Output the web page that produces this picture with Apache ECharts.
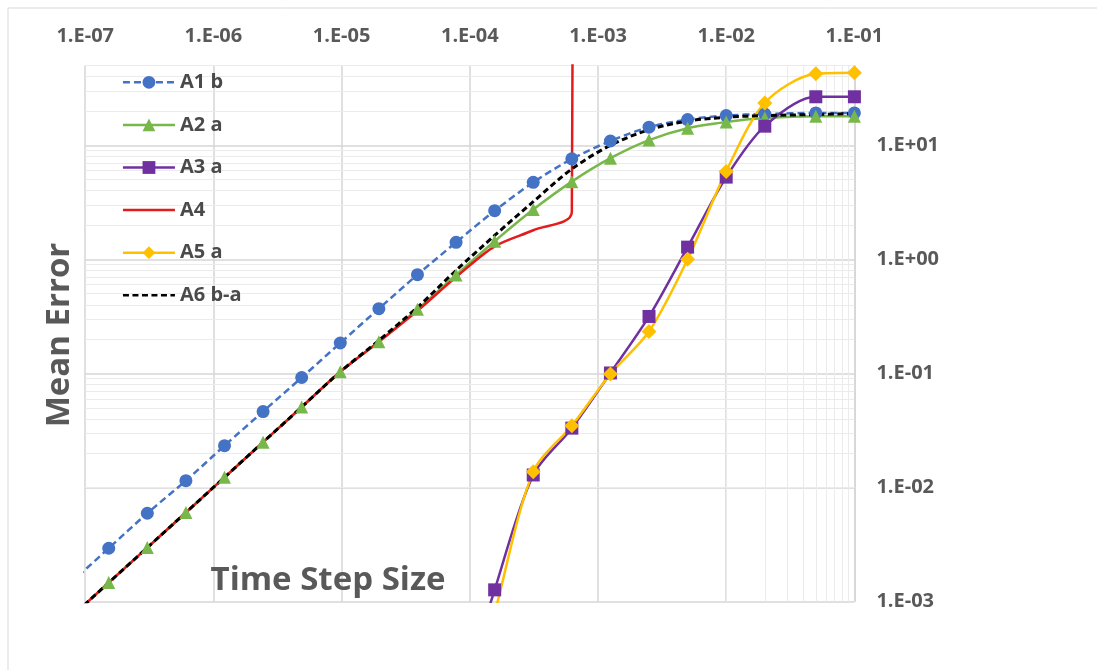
<!DOCTYPE html>
<html><head><meta charset="utf-8">
<script src="https://cdn.jsdelivr.net/npm/echarts@6/dist/echarts.min.js"></script>
<style>html,body{margin:0;padding:0;background:#fff}#c{width:1097px;height:670px}</style>
</head><body><div id="c"></div>
<script>
// time step sizes (x)
const stepSizes = [7.63e-8, 1.526e-7, 3.052e-7, 6.104e-7, 1.221e-6, 2.441e-6, 4.883e-6, 9.766e-6,
  1.953e-5, 3.906e-5, 7.813e-5, 1.563e-4, 3.125e-4, 6.25e-4, 1.25e-3, 2.5e-3, 5e-3, 1e-2, 2e-2, 5e-2, 1e-1];
const seriesNames = ['A1 b', 'A2 a', 'A3 a', 'A4', 'A5 a', 'A6 b-a'];
// mean error values
const a1b = [1.45e-3, 2.94e-3, 5.96e-3, 1.15e-2, 2.33e-2, 4.64e-2, 9.22e-2, 0.185, 0.37, 0.734,
  1.41, 2.67, 4.73, 7.6, 10.9, 14.4, 16.8, 18.2, 18.8, 19.2, 19.2];
const a2a = [7.2e-4, 1.47e-3, 2.98e-3, 6.05e-3, 1.23e-2, 2.5e-2, 5.08e-2, 0.1035, 0.19, 0.365,
  0.73, 1.44, 2.73, 4.8, 7.7, 11.1, 14.1, 16.0, 17.3, 18.0, 18.0];
const a3a = [1e-4, 1.27e-3, 1.29e-2, 3.32e-2, 0.101, 0.316, 1.28, 5.26, 14.7, 26.6, 26.6]; // from stepSizes[10]
const a4 = [7.2e-4, 1.47e-3, 2.98e-3, 6.05e-3, 1.23e-2, 2.5e-2, 5.08e-2, 0.1035, 0.19, 0.355,
  0.70, 1.30, 1.80, 2.6, 1e100]; // diverges at the last step
const a5a = [5e-5, 8e-4, 1.38e-2, 3.48e-2, 9.9e-2, 0.233, 1.0, 5.9, 23.5, 42.3, 43.2]; // from stepSizes[10]
const a6ba = [7.2e-4, 1.47e-3, 2.98e-3, 6.05e-3, 1.23e-2, 2.5e-2, 5.08e-2, 0.1035, 0.195, 0.38,
  0.80, 1.62, 3.2, 6.2, 10.0, 13.7, 16.3, 17.6, 18.2, 18.6, 19.0];
// tick labels
const xTickLabels = ['1.E-07', '1.E-06', '1.E-05', '1.E-04', '1.E-03', '1.E-02', '1.E-01'];
const yTickLabels = ['1.E-03', '1.E-02', '1.E-01', '1.E+00', '1.E+01'];
const xDecades = [-7, -6, -5, -4, -3, -2];
const yDecades = [-3, -2, -1, 0, 1];
const minorMult = [2, 3, 4, 5, 6, 7, 8, 9];
const yMax = 50;

const pairs = (xs, ys) => ys.map((y, i) => [xs[i], y]);
const xMinor = [];
xDecades.forEach(d => minorMult.forEach(m => xMinor.push({ xAxis: m * Math.pow(10, d) })));
const yMinor = [];
yDecades.forEach(d => minorMult.forEach(m => { const v = m * Math.pow(10, d); if (v <= yMax + 1e-9) yMinor.push({ yAxis: v }); }));

const FONT = "'Open Sans', sans-serif";
const TXT = '#595959';
const lbl = (arr, base) => v => {
  const e = Math.log10(v), r = Math.round(e);
  if (Math.abs(e - r) > 1e-6) return '';
  return arr[r - base] || '';
};
const noMarker = { color: 'rgba(0,0,0,0)', borderColor: 'rgba(0,0,0,0)', borderWidth: 0 };

const chart = echarts.init(document.getElementById('c'), null, { renderer: 'canvas' });
chart.setOption({
  animation: false,
  backgroundColor: '#fff',
  textStyle: { fontFamily: FONT },
  grid: { left: 85.2, right: 242.6, top: 65.5, bottom: 68.3, outerBoundsMode: 'none', containLabel: false },
  xAxis: {
    type: 'log', logBase: 10, min: 1e-7, max: 1e-1, position: 'top',
    axisLine: { show: false }, axisTick: { show: false },
    axisLabel: { formatter: lbl(xTickLabels, -7), color: TXT, fontFamily: FONT, fontWeight: 'bold', fontSize: 20, margin: 19 },
    splitLine: { show: true, lineStyle: { color: '#d6d6d6', width: 1.5 } }
  },
  yAxis: {
    type: 'log', logBase: 10, min: 1e-3, max: yMax, position: 'right',
    axisLine: { show: false }, axisTick: { show: false },
    axisLabel: { formatter: lbl(yTickLabels, -3), color: TXT, fontFamily: FONT, fontWeight: 'bold', fontSize: 20, margin: 22, showMaxLabel: false },
    splitLine: { show: true, showMaxLine: false, lineStyle: { color: '#d6d6d6', width: 1.5 } }
  },
  legend: {
    orient: 'vertical', left: 121.7, top: 72.3, padding: 0,
    itemWidth: 52, itemHeight: 16, itemGap: 22.6,
    lineStyle: { width: 2.5 },
    data: [
      { name: seriesNames[0] }, { name: seriesNames[1] }, { name: seriesNames[2] },
      { name: seriesNames[3], itemStyle: noMarker }, { name: seriesNames[4] }, { name: seriesNames[5], itemStyle: noMarker }
    ],
    textStyle: { color: '#4a4a4a', fontFamily: FONT, fontWeight: 'bold', fontSize: 20, lineHeight: 20 },
    backgroundColor: 'rgba(255,255,255,0)'
  },
  graphic: [
    { type: 'rect', shape: { x: 8, y: 8, width: 1200, height: 800 }, style: { fill: 'none', stroke: '#d9d9d9', lineWidth: 1 }, silent: true, z: -10 },
    { type: 'text', x: 60, y: 335, rotation: Math.PI / 2, style: { text: 'Mean Error', fill: TXT, font: "bold 33px 'Open Sans', sans-serif", textAlign: 'center', textVerticalAlign: 'middle' }, z: 10 },
    { type: 'text', x: 328, y: 581, style: { text: 'Time Step Size', fill: TXT, font: "bold 33px 'Open Sans', sans-serif", textAlign: 'center', textVerticalAlign: 'middle' }, z: 10 }
  ],
  series: [
    { name: 'minor-grid', type: 'line', data: [], silent: true, z: 1, legendHoverLink: false,
      markLine: { silent: true, symbol: ['none', 'none'], label: { show: false }, animation: false, z: 1,
        lineStyle: { color: '#ebebeb', width: 1, type: 'solid' }, emphasis: { disabled: true },
        data: xMinor.concat(yMinor) } },
    { name: seriesNames[0], type: 'line', data: pairs(stepSizes, a1b), smooth: 0.3,
      symbol: 'circle', symbolSize: 13, showSymbol: true,
      lineStyle: { color: '#4472C4', width: 2.5, type: [7, 4] }, itemStyle: { color: '#4472C4' } },
    { name: seriesNames[1], type: 'line', data: pairs(stepSizes, a2a), smooth: 0.3,
      symbol: 'triangle', symbolSize: 13,
      lineStyle: { color: '#78B84A', width: 2.5 }, itemStyle: { color: '#78B84A' } },
    { name: seriesNames[2], type: 'line', data: pairs(stepSizes.slice(10), a3a), smooth: 0.3,
      symbol: 'rect', symbolSize: 13,
      lineStyle: { color: '#7030A0', width: 2.5 }, itemStyle: { color: '#7030A0' } },
    { name: seriesNames[3], type: 'line', data: pairs(stepSizes.slice(0, 15), a4), smooth: 0.3,
      symbol: 'none', showSymbol: false,
      lineStyle: { color: '#E31B1B', width: 2.5 }, itemStyle: { color: '#E31B1B' } },
    { name: seriesNames[4], type: 'line', data: pairs(stepSizes.slice(10), a5a), smooth: 0.3,
      symbol: 'diamond', symbolSize: 15,
      lineStyle: { color: '#FFC000', width: 2.5 }, itemStyle: { color: '#FFC000' } },
    { name: seriesNames[5], type: 'line', data: pairs(stepSizes, a6ba), smooth: 0.3,
      symbol: 'none', showSymbol: false,
      lineStyle: { color: '#000000', width: 3, type: [6, 3.5] }, itemStyle: { color: '#000000' } }
  ]
});
</script></body></html>
